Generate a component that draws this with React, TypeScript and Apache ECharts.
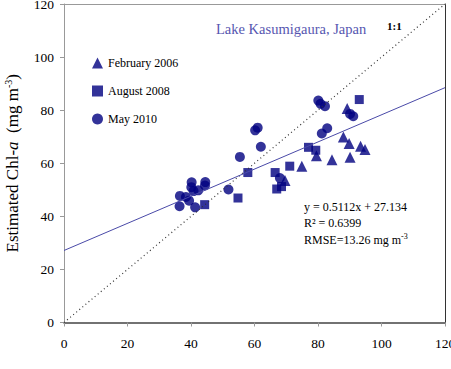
import React, { useEffect, useRef } from "react";
import * as echarts from "echarts";

const feb2006: number[][] = [
  [69.6, 53.5], [74.9, 58.9], [79.5, 62.8], [84.4, 61.3], [88.0, 69.9],
  [89.2, 80.6], [89.8, 67.4], [90.1, 62.3], [93.4, 66.4], [94.8, 65.2],
];
const aug2008: number[][] = [
  [44.3, 44.4], [54.8, 46.9], [57.9, 56.5], [66.5, 56.5], [67.0, 50.3],
  [68.5, 51.2], [71.1, 58.9], [77.0, 66.0], [79.3, 64.9], [93.0, 84.0],
];
const may2010: number[][] = [
  [36.5, 47.7], [36.4, 43.8], [38.4, 47.3], [39.4, 45.9], [40.2, 52.8],
  [40.1, 51.0], [40.8, 49.5], [42.3, 49.8], [41.3, 43.4], [44.5, 52.9],
  [44.4, 51.6], [51.8, 50.1], [55.4, 62.4], [60.2, 72.4], [61.0, 73.4],
  [62.0, 66.2], [68.0, 54.4], [80.1, 83.6], [80.8, 82.4], [82.2, 81.5],
  [81.2, 71.2], [82.9, 73.2], [90.1, 78.6], [91.1, 77.7],
];
const slope = 0.5112;
const intercept = 27.134;
const fitLine: number[][] = [
  [0, intercept],
  [120, slope * 120 + intercept],
];
const oneToOne: number[][] = [
  [0, 0],
  [120, 120],
];

const FONT = "Liberation Serif";
const NAVY = "#000080";

export default function App() {
  const ref = useRef<HTMLDivElement>(null);
  useEffect(() => {
    if (!ref.current) return;
    const chart = echarts.init(ref.current, null, { renderer: "svg" });
    chart.setOption({
      animation: false,
      backgroundColor: "#fff",
      textStyle: { fontFamily: FONT },
      grid: { left: 64, right: 6, top: 4, bottom: 46.5, outerBoundsMode: "none", containLabel: false },
      legend: {
        orient: "vertical",
        left: 87,
        top: 52,
        itemWidth: 11,
        itemHeight: 11,
        itemGap: 16,
        textStyle: { fontFamily: FONT, fontSize: 12, color: "#000" },
        data: [
          { name: "February 2006", icon: "triangle" },
          { name: "August 2008", icon: "rect" },
          { name: "May 2010", icon: "circle" },
        ],
      },
      xAxis: [
        {
          type: "value",
          min: 0,
          max: 120,
          interval: 20,
          splitLine: { show: false },
          axisLine: { onZero: false, lineStyle: { color: "#444", width: 1.5 } },
          axisTick: { show: true, length: 4, lineStyle: { color: "#999" } },
          axisLabel: { fontFamily: FONT, fontSize: 13.5, color: "#000", margin: 14 },
        },
        {
          type: "value",
          position: "top",
          min: 0,
          max: 120,
          interval: 20,
          splitLine: { show: false },
          axisLine: { show: true, onZero: false, lineStyle: { color: "#999" } },
          axisTick: { show: false },
          axisLabel: { show: false },
        },
      ],
      yAxis: [
        {
          type: "value",
          min: 0,
          max: 120,
          interval: 20,
          splitLine: { show: false },
          axisLine: { show: true, onZero: false, lineStyle: { color: "#999" } },
          axisTick: { show: true, length: 4, lineStyle: { color: "#999" } },
          axisLabel: { fontFamily: FONT, fontSize: 13.5, color: "#000", margin: 10 },
          name: "{n|Estimated Chl-}{i|a}{n|  (mg m}{s|-3}{n|)}",
          nameLocation: "middle",
          nameGap: 42,
          nameTextStyle: {
            rich: {
              n: { fontFamily: FONT, fontSize: 17, color: "#000" },
              i: { fontFamily: FONT, fontSize: 17, fontStyle: "italic", color: "#000" },
              s: { fontFamily: FONT, fontSize: 10, color: "#000", verticalAlign: "top", padding: [0, 0, 9, 0] },
            },
          },
        },
        {
          type: "value",
          position: "right",
          min: 0,
          max: 120,
          interval: 20,
          splitLine: { show: false },
          axisLine: { show: true, onZero: false, lineStyle: { color: "#333" } },
          axisTick: { show: false },
          axisLabel: { show: false },
        },
      ],
      series: [
        {
          name: "1:1",
          type: "line",
          data: oneToOne,
          symbol: "none",
          lineStyle: { color: "#333", width: 1.2, type: [1, 3] },
          silent: true,
        },
        {
          name: "fit",
          type: "line",
          data: fitLine,
          symbol: "none",
          lineStyle: { color: "#4a4aa8", width: 1 },
          silent: true,
        },
        {
          name: "February 2006",
          type: "scatter",
          data: feb2006,
          symbol: "triangle",
          symbolSize: 11,
          itemStyle: { color: NAVY },
        },
        {
          name: "August 2008",
          type: "scatter",
          data: aug2008,
          symbol: "rect",
          symbolSize: 9,
          itemStyle: { color: NAVY },
        },
        {
          name: "May 2010",
          type: "scatter",
          data: may2010,
          symbol: "circle",
          symbolSize: 10,
          itemStyle: { color: NAVY },
        },
      ],
      graphic: [
        {
          type: "text",
          left: 216,
          top: 21,
          style: {
            text: "Lake Kasumigaura, Japan",
            font: `14.5px "${FONT}"`,
            fill: "#5656b0",
          },
        },
        {
          type: "text",
          left: 387,
          top: 20,
          style: { text: "1:1", font: `bold 11px "${FONT}"`, fill: "#000" },
        },
        {
          type: "text",
          left: 304,
          top: 201,
          style: { text: "y = 0.5112x + 27.134", font: `12px "${FONT}"`, fill: "#000" },
        },
        {
          type: "text",
          left: 304,
          top: 217,
          style: { text: "R² = 0.6399", font: `12px "${FONT}"`, fill: "#000" },
        },
        {
          type: "text",
          left: 304,
          top: 232,
          style: {
            text: "{n|RMSE=13.26 mg m}{s|-3}",
            rich: {
              n: { fontFamily: FONT, fontSize: 12, color: "#000" },
              s: { fontFamily: FONT, fontSize: 8, color: "#000", verticalAlign: "top", padding: [0, 0, 7, 0] },
            },
          },
        },
      ],
    });
    return () => chart.dispose();
  }, []);
  return (
    <div
      ref={ref}
      style={{ position: "absolute", left: 0, top: 0, width: 451, height: 369 }}
    />
  );
}
